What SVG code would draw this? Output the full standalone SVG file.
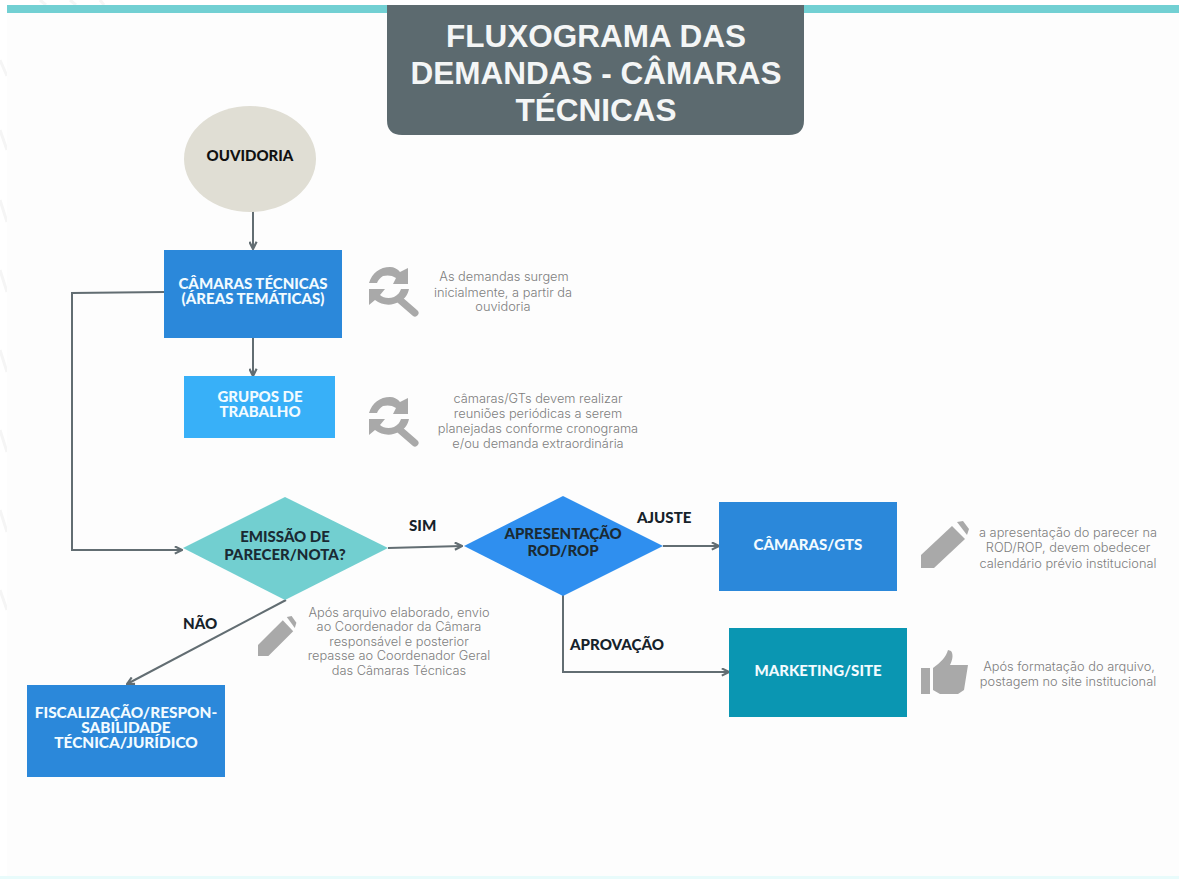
<svg xmlns="http://www.w3.org/2000/svg" width="1179" height="879" viewBox="0 0 1179 879">
<style>
.n{font-family:"Lato","Liberation Sans",sans-serif;font-weight:900;font-size:15px;text-anchor:middle;fill:#f2fbff}
.d{fill:#1a2a33}
.t{font-family:"Inter","Liberation Sans",sans-serif;font-weight:300;font-size:12.8px;text-anchor:middle;fill:#7d7d7d}
.l{font-family:"Lato","Liberation Sans",sans-serif;font-weight:900;font-size:15.1px;fill:#16222a}
.c{fill:none;stroke:#626d72;stroke-width:2}
.i{fill:#a9a9a9}
.w{fill:none;stroke:#f5f5f5;stroke-width:3}
</style>
<defs>
<marker id="a" viewBox="0 0 10 10" refX="9" refY="5" markerWidth="4.5" markerHeight="4.5" orient="auto"><path d="M1 1 9 5 1 9" fill="none" stroke="#626d72" stroke-width="2.4"/></marker>
<g id="refresh"><path class="i" d="M0 16C3 6 11 0 21 0C25 0 29 2 31 5L39 1V17H24L27 11C23 8 18 8 14 9C11 11 9 13 8 16Z"/><path class="i" d="M0 22H16L11 28C14 31 20 32 25 30C29 28 31 25 32 22H40C39 27 36 32 31 34C22 40 13 38 6 33L0 38Z"/><path d="M31 33 46 46" fill="none" stroke="#a9a9a9" stroke-width="7" stroke-linecap="round"/></g>
<g id="pencil" class="i"><path d="M0 0V-13L31-42 44-29 13 0Z"/><path d="M36-46 42-47 48-39 46-33Z"/></g>
</defs>
<rect width="1179" height="879" fill="#ffffff"/>
<g class="w"><path d="M0 60 7 76M0 130 7 150M0 200 7 222M0 270 7 292M0 350 7 372M0 430 7 452M0 510 7 532M0 590 7 610M40 0 46 5M70 0 76 5M100 0 104 5"/></g>
<rect x="7" y="13" width="1172" height="864" fill="#fdfdfd"/>
<rect x="7" y="5" width="1172" height="8" fill="#72d0d3"/>
<rect x="0" y="876" width="1179" height="3" fill="#e8fbfb"/>
<g id="titulo">
<path d="M387 5H804V120Q804 135 789 135H402Q387 135 387 120Z" fill="#5c6a6f"/>
<g font-family="'Liberation Sans',Arial,sans-serif" font-size="31.5" font-weight="700" fill="#f4f6f6" text-anchor="middle"><text x="596" y="47">FLUXOGRAMA DAS</text><text x="596" y="84">DEMANDAS - CÂMARAS</text><text x="596" y="121">TÉCNICAS</text></g>
</g>
<g id="conectores">
<path class="c" d="M253 211V249" marker-end="url(#a)"/>
<path class="c" d="M253 338V376" marker-end="url(#a)"/>
<path class="c" d="M164 292 72 293V550H182" marker-end="url(#a)"/>
<path class="c" d="M388 548 462 546" marker-end="url(#a)"/>
<path class="c" d="M286 600 127 684" marker-end="url(#a)"/>
<path class="c" d="M663 546H719" marker-end="url(#a)"/>
<path class="c" d="M563 594V672H729" marker-end="url(#a)"/>
</g>
<g id="ouvidoria"><ellipse cx="250" cy="159" rx="66" ry="53" fill="#e0ded4"/><text class="n" style="fill:#111" x="250" y="161">OUVIDORIA</text></g>
<g id="camaras-tecnicas"><rect x="164" y="250" width="178" height="88" fill="#2b88da"/><text class="n" x="253" y="289">CÂMARAS TÉCNICAS</text><text class="n" x="253" y="304">(ÁREAS TEMÁTICAS)</text></g>
<g id="grupos"><rect x="184" y="376" width="151" height="62" fill="#38b0f8"/><text class="n" x="260" y="402">GRUPOS DE</text><text class="n" x="260" y="417">TRABALHO</text></g>
<g id="emissao"><path d="M183 548 285 497 388 548 285 600Z" fill="#72cfd0"/><text class="n d" x="285" y="542">EMISSÃO DE</text><text class="n d" x="285" y="560">PARECER/NOTA?</text></g>
<g id="apresentacao"><path d="M464 546 563 496 663 546 563 596Z" fill="#2f8fef"/><text class="n d" x="563" y="539">APRESENTAÇÃO</text><text class="n d" x="563" y="556">ROD/ROP</text></g>
<g id="camaras-gts"><rect x="719" y="502" width="178" height="89" fill="#2b88da"/><text class="n" x="808" y="550">CÂMARAS/GTS</text></g>
<g id="marketing"><rect x="729" y="628" width="178" height="89" fill="#0a96b2"/><text class="n" x="818" y="676">MARKETING/SITE</text></g>
<g id="fiscalizacao"><rect x="27" y="685" width="198" height="92" fill="#2b88da"/><text class="n" style="font-size:15.4px" x="126" y="718">FISCALIZAÇÃO/RESPON-</text><text class="n" style="font-size:15.4px" x="126" y="733">SABILIDADE</text><text class="n" style="font-size:15.4px" x="126" y="748">TÉCNICA/JURÍDICO</text></g>
<g id="rotulos"><text class="l" x="409" y="531">SIM</text><text class="l" x="183" y="629">NÃO</text><text class="l" x="637" y="523">AJUSTE</text><text class="l" x="570" y="650">APROVAÇÃO</text></g>
<g id="notas">
<use href="#refresh" x="369" y="267"/><use href="#refresh" x="369" y="397"/>
<g transform="translate(258 656) scale(.8 .85)"><use href="#pencil"/></g>
<use href="#pencil" x="921" y="568"/>
<path class="i" d="M921 668H930V694H921ZM933 668C941 662 946 657 948 650L951 651C954 655 952 661 950 665H968L964 690 958 694H940L933 690Z"/>
<text class="t" x="504" y="281">As demandas surgem</text><text class="t" x="503" y="297">inicialmente, a partir da</text><text class="t" x="503" y="311">ouvidoria</text>
<text class="t" x="538" y="403">câmaras/GTs devem realizar</text><text class="t" x="538" y="418">reuniões periódicas  a serem</text><text class="t" x="538" y="433">planejadas conforme cronograma</text><text class="t" x="538" y="448">e/ou demanda extraordinária</text>
<text class="t" x="399" y="617">Após arquivo elaborado, envio</text><text class="t" x="399" y="631">ao Coordenador da Câmara</text><text class="t" x="399" y="646">responsável e posterior</text><text class="t" x="399" y="660">repasse ao Coordenador Geral</text><text class="t" x="399" y="675">das Câmaras Técnicas</text>
<text class="t" x="1068" y="537">a apresentação do parecer na</text><text class="t" x="1068" y="552">ROD/ROP, devem obedecer</text><text class="t" x="1068" y="568">calendário prévio institucional</text>
<text class="t" x="1069" y="671">Após formatação do arquivo,</text><text class="t" x="1068" y="686">postagem no site institucional</text>
</g>
</svg>
